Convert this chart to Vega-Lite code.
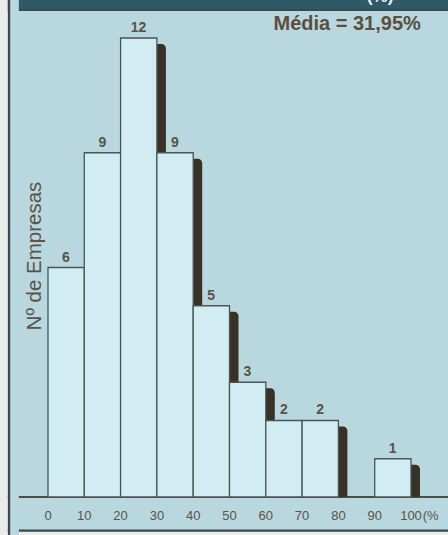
{
  "$schema": "https://vega.github.io/schema/vega-lite/v6.json",
  "width": 448,
  "height": 535,
  "autosize": {"type": "none"},
  "padding": 0,
  "background": "#b9d7de",
  "config": {"view": {"stroke": null}, "font": "Liberation Sans"},
  "data": {"values": [{"unico": 1}]},
  "datasets": {
    "faixas": [
      {"inicio": 0, "fim": 10, "empresas": 6},
      {"inicio": 10, "fim": 20, "empresas": 9},
      {"inicio": 20, "fim": 30, "empresas": 12},
      {"inicio": 30, "fim": 40, "empresas": 9},
      {"inicio": 40, "fim": 50, "empresas": 5},
      {"inicio": 50, "fim": 60, "empresas": 3},
      {"inicio": 60, "fim": 70, "empresas": 2},
      {"inicio": 70, "fim": 80, "empresas": 2},
      {"inicio": 90, "fim": 100, "empresas": 1}
    ],
    "marcas": [
      {"v": 0}, {"v": 10}, {"v": 20}, {"v": 30}, {"v": 40}, {"v": 50},
      {"v": 60}, {"v": 70}, {"v": 80}, {"v": 90}, {"v": 100}
    ]
  },
  "layer": [
    {
      "mark": {"type": "rule", "stroke": "#2d5a66", "strokeWidth": 10},
      "encoding": {
        "y": {"datum": 12.86, "type": "quantitative", "scale": {"domain": [-0.9935, 12.9935], "nice": false, "zero": false}, "axis": null}
      }
    },
    {
      "mark": {"type": "text", "text": "(%)", "fill": "#eef4f4", "fontSize": 17, "fontWeight": "bold", "align": "center", "baseline": "alphabetic"},
      "encoding": {
        "x": {"datum": 91.5, "type": "quantitative", "scale": {"domain": [-13.22, 110.19], "nice": false, "zero": false}, "axis": null},
        "y": {"datum": 12.93, "type": "quantitative"}
      }
    },
    {
      "mark": {"type": "rule", "stroke": "#3e4a48", "strokeWidth": 2},
      "encoding": {
        "y": {"datum": 12.73, "type": "quantitative"}
      }
    },
    {
      "mark": {"type": "rule", "stroke": "#3e4a48", "strokeWidth": 2.5},
      "encoding": {
        "y": {"datum": -0.885, "type": "quantitative"}
      }
    },
    {
      "mark": {"type": "rule", "stroke": "#e9ece8", "strokeWidth": 4},
      "encoding": {
        "y": {"datum": -0.96, "type": "quantitative"}
      }
    },
    {
      "mark": {"type": "rule", "stroke": "#46504d", "strokeWidth": 2},
      "encoding": {
        "y": {"datum": 0, "type": "quantitative"}
      }
    },
    {
      "mark": {"type": "rule", "stroke": "#b9d7de", "strokeWidth": 10},
      "encoding": {
        "x": {"datum": -9.4, "type": "quantitative"}
      }
    },
    {
      "mark": {"type": "rule", "stroke": "#3e4a48", "strokeWidth": 2.5},
      "encoding": {
        "x": {"datum": -10.75, "type": "quantitative"}
      }
    },
    {
      "mark": {"type": "rule", "stroke": "#e9ece8", "strokeWidth": 8},
      "encoding": {
        "x": {"datum": -12.2, "type": "quantitative"}
      }
    },
    {
      "data": {"name": "faixas"},
      "mark": {"type": "rect", "fill": "#3a3126", "x2Offset": 9, "yOffset": 6, "cornerRadiusTopRight": 5},
      "encoding": {
        "x": {"field": "fim", "type": "quantitative"},
        "x2": {"field": "fim"},
        "y": {"field": "empresas", "type": "quantitative"},
        "y2": {"datum": 0}
      }
    },
    {
      "data": {"name": "faixas"},
      "mark": {"type": "rect", "fill": "#d2ecf4", "stroke": "#4a5654", "strokeWidth": 1.3},
      "encoding": {
        "x": {"field": "inicio", "type": "quantitative"},
        "x2": {"field": "fim"},
        "y": {"field": "empresas", "type": "quantitative"},
        "y2": {"datum": 0}
      }
    },
    {
      "data": {"name": "faixas"},
      "mark": {"type": "text", "fill": "#5a5346", "fontSize": 14, "fontWeight": "bold", "align": "center", "baseline": "alphabetic", "dx": 18, "dy": -6},
      "encoding": {
        "x": {"field": "inicio", "type": "quantitative"},
        "y": {"field": "empresas", "type": "quantitative"},
        "text": {"field": "empresas", "type": "quantitative"}
      }
    },
    {
      "data": {"name": "marcas"},
      "mark": {"type": "text", "fill": "#5a5346", "fontSize": 13, "align": "center", "baseline": "alphabetic"},
      "encoding": {
        "x": {"field": "v", "type": "quantitative"},
        "y": {"datum": -0.6, "type": "quantitative"},
        "text": {"field": "v", "type": "quantitative"}
      }
    },
    {
      "mark": {"type": "text", "text": "(%", "fill": "#5a5346", "fontSize": 13, "align": "left", "baseline": "alphabetic"},
      "encoding": {
        "x": {"datum": 103.2, "type": "quantitative"},
        "y": {"datum": -0.6, "type": "quantitative"}
      }
    },
    {
      "mark": {"type": "text", "text": "Nº de Empresas", "fill": "#5a5346", "fontSize": 20.5, "angle": 270, "align": "center", "baseline": "middle"},
      "encoding": {
        "x": {"datum": -3.6, "type": "quantitative"},
        "y": {"datum": 6.3, "type": "quantitative"}
      }
    },
    {
      "mark": {"type": "text", "text": "Média = 31,95%", "fill": "#5a4f40", "fontSize": 20, "fontWeight": "bold", "align": "right", "baseline": "alphabetic"},
      "encoding": {
        "x": {"datum": 102.7, "type": "quantitative"},
        "y": {"datum": 12.2, "type": "quantitative"}
      }
    }
  ]
}
